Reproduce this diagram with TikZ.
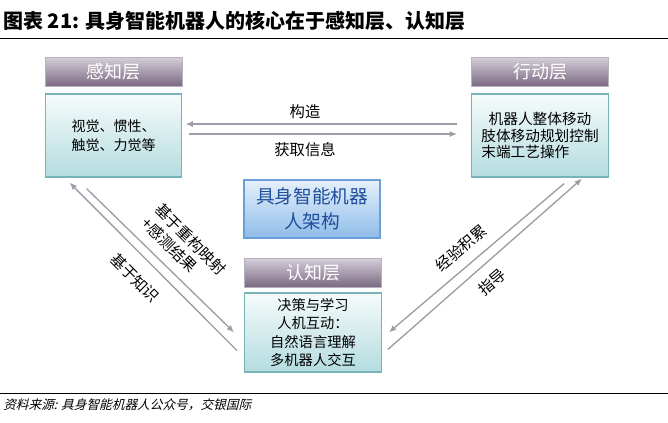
\documentclass[tikz,border=0pt]{standalone}
\usepackage{fontspec}
\setmainfont{Noto Sans CJK SC}
\newfontfamily\cjksl[FakeSlant=0.25]{Noto Sans CJK SC}
\usetikzlibrary{arrows.meta,calc}
\definecolor{hdrtop}{HTML}{D6CFDA}
\definecolor{hdrbot}{HTML}{7A6A82}
\definecolor{cnttop}{HTML}{F6FBFB}
\definecolor{cntbot}{HTML}{B4DCDF}
\definecolor{cntborder}{HTML}{78B3B8}
\definecolor{midtop}{HTML}{E6F0FB}
\definecolor{midbot}{HTML}{8EBCE9}
\definecolor{midborder}{HTML}{6A9FD8}
\definecolor{midtext}{HTML}{1F4E9A}
\definecolor{arrgray}{HTML}{A19BA7}
\tikzset{
  hdr/.style={draw=hdrtop!70!hdrbot, line width=0.4pt, top color=hdrtop, bottom color=hdrbot,
    minimum width=102.5pt, minimum height=21.75pt, inner sep=0pt, text=white,
    font=\fontsize{13.5}{15}\selectfont},
  cnt/.style={draw=cntborder, line width=0.9pt, top color=cnttop, bottom color=cntbot,
    minimum width=102.5pt, inner sep=0pt, align=center, text=black},
  midbox/.style={draw=midborder, line width=0.9pt, top color=midtop, bottom color=midbot,
    minimum width=102pt, minimum height=43.5pt, inner sep=0pt, align=center, text=midtext,
    font=\fontsize{14}{18.75}\selectfont},
  lbl/.style={inner sep=0pt, font=\fontsize{11.5}{14}\selectfont},
  arr/.style={draw=arrgray, line width=1pt, -{Latex[length=5.5pt,width=4.5pt]}},
}
\begin{document}
\begin{tikzpicture}[x=0.75pt,y=-0.75pt]
\useasboundingbox (0,0) rectangle (668,422);
\fill[white] (0,0) rectangle (668,422);
% title and rules
\node[anchor=west, inner sep=0pt, font=\bfseries\fontsize{15}{16}\selectfont] (title) at (3,21)
  {图表 21: 具身智能机器人的核心在于感知层、认知层};
\draw[line width=1pt] (0,38.5) -- (668,38.5);
\draw[line width=1pt] (0,393.5) -- (668,393.5);
\node[anchor=west, inner sep=0pt, font=\cjksl\fontsize{9.5}{11}\selectfont] (src) at (3,405)
  {资料来源: 具身智能机器人公众号，交银国际};
% left
\node[hdr] (lh) at (113.5,71.5) {感知层};
\node[cnt, minimum height=62.25pt, font=\fontsize{10.5}{14.25}\selectfont] (lc) at (113.5,135.5)
  {视觉、惯性、\\触觉、力觉等};
% right
\node[hdr] (rh) at (540,71.5) {行动层};
\node[cnt, minimum height=62.25pt, align=left, font=\fontsize{11}{12.4}\selectfont] (rc) at (540,135.5)
  {\hspace{0.5em}机器人整体移动\\肢体移动规划控制\\末端工艺操作};
% middle
\node[midbox] (mid) at (312,209) {具身智能机器\\人架构};
% cognition
\node[hdr] (ch) at (313,272.5) {认知层};
\node[cnt, minimum height=59.25pt, font=\fontsize{10.7}{13.7}\selectfont] (cc) at (313,332.5)
  {决策与学习\\人机互动：\\自然语言理解\\多机器人交互};
% horizontal arrows
\draw[arr, shorten <=10.5pt, shorten >=2.25pt] ([yshift=8.6pt]rc.west) -- ([yshift=8.6pt]lc.east);
\draw[arr, shorten <=5.25pt, shorten >=10.5pt] ([yshift=1.1pt]lc.east) -- ([yshift=1.1pt]rc.west);
\node[lbl] (l1) at (305,112) {构造};
\node[lbl] (l2) at (305,150) {获取信息};
% left diagonals
\draw[arr] ($(cc.south west)+(-7,-22)$) -- ($(lc.south west)+(25,5)$);
\draw[arr] ($(lc.south west)+(42,11)$) -- ($(cc.north west)+(-10,40)$);
\node[lbl, rotate=-45, align=left, font=\fontsize{11.5}{14.25}\selectfont] (l3) at (184,246)
  {基于重构映射\\+感测结果};
\node[lbl, rotate=-45] (l4) at (135,278) {基于知识};
% right diagonals
\draw[arr] ($(rc.south west)+(93,6)$) -- ($(cc.north east)+(7,40)$);
\draw[arr] ($(cc.north east)+(6,57)$) -- ($(rc.south west)+(111,1)$);
\node[lbl, rotate=40] (l5) at (461,248) {经验积累};
\node[lbl, rotate=40] (l6) at (492,282) {指导};
\end{tikzpicture}
\end{document}
